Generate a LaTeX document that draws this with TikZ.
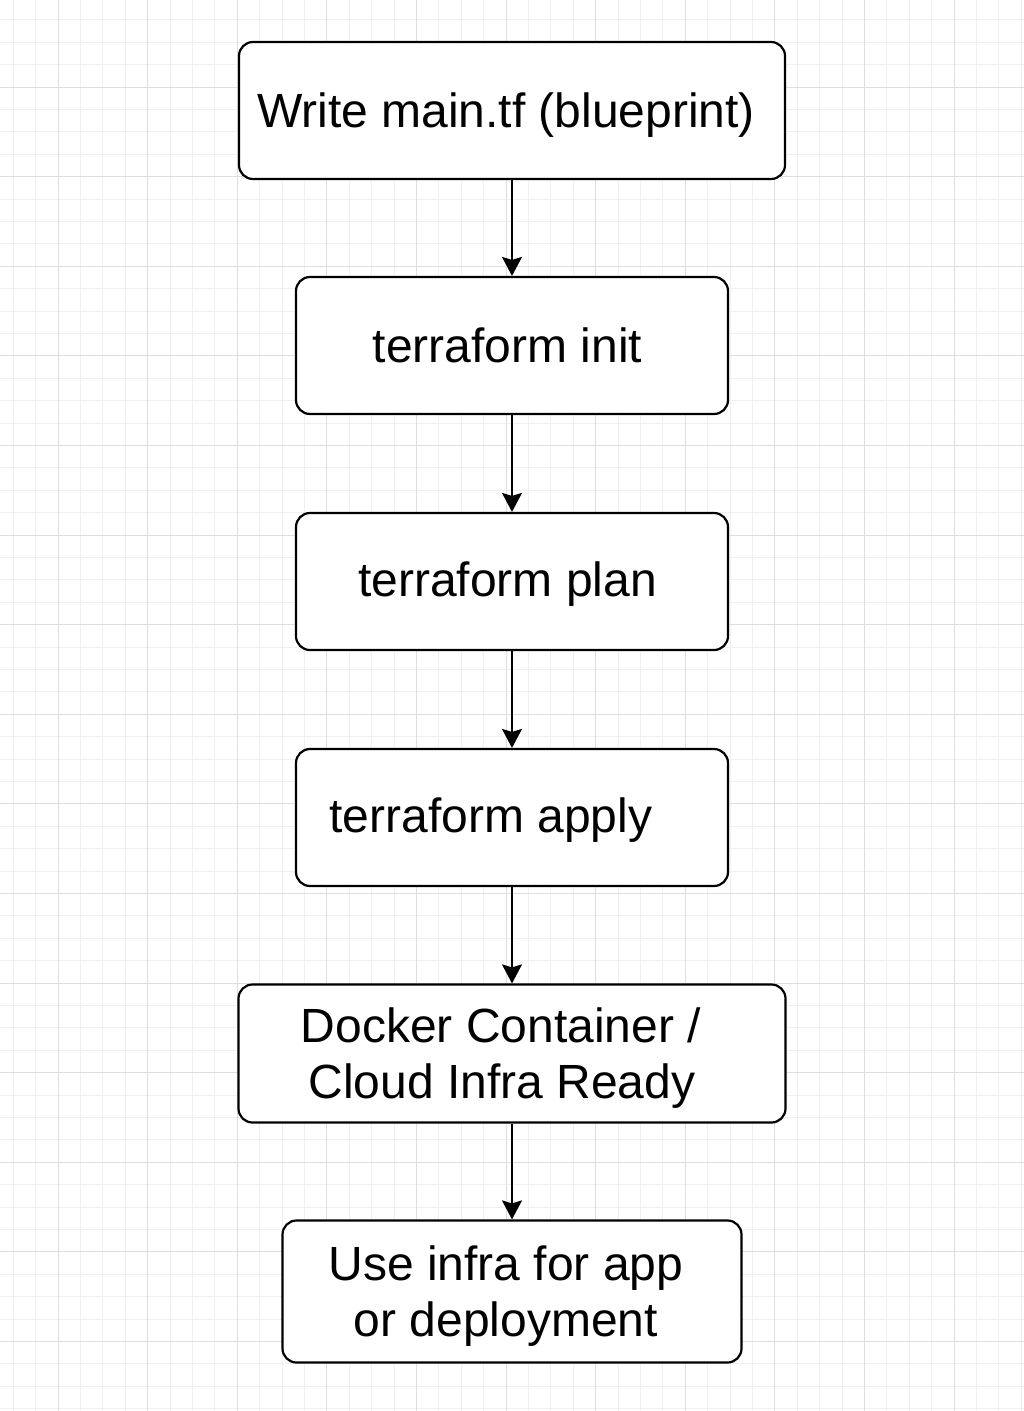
\documentclass[tikz,border=0pt]{standalone}
\usepackage{fontspec}
\setmainfont{Liberation Sans}
\usepackage{tikz}
\usetikzlibrary{arrows.meta}

\begin{document}
\begin{tikzpicture}[x=1pt,y=-1pt,>={Stealth[length=19pt,width=20pt,inset=3pt]},node distance=236pt]
      \tikzstyle{line} = [draw=black, line width=1.5pt, ->]
      \tikzstyle{main node} = [draw=black, fill=white, line width=2.2pt, rounded corners=14pt,
         inner sep=0pt, minimum width=432pt, minimum height=137pt, align=center,
         font=\fontsize{48}{56}\selectfont]
      \tikzstyle{minor grid} = [draw=black!6, line width=0.8pt]
      \tikzstyle{major grid} = [draw=black!13, line width=1pt]
      %grid
      \useasboundingbox[fill=white] (0,0) rectangle (1024,1411);
      \foreach \i in {-2,...,43} \draw[minor grid] ({58+22.4*\i},0) -- ({58+22.4*\i},1411);
      \foreach \i in {-3,...,59} \draw[minor grid] (0,{87+22.4*\i}) -- (1024,{87+22.4*\i});
      \foreach \i in {0,...,10} \draw[major grid] ({58+89.6*\i},0) -- ({58+89.6*\i},1411);
      \foreach \i in {0,...,14} \draw[major grid] (0,{87+89.6*\i}) -- (1024,{87+89.6*\i});
      %nodes
      \node[main node, minimum width=546pt, text depth=0pt] (write') at (512,110.5) {Write main.tf (blueprint)\hspace*{12pt}};
      \node[main node] (init') [below of=write', yshift=1pt] {terraform init\hspace*{9pt}};
      \node[main node, text depth=4pt] (plan') [below of=init'] {terraform plan\hspace*{9pt}};
      \node[main node, text depth=4pt] (apply') [below of=plan'] {terraform apply\hspace*{42pt}};
      \node[main node, minimum width=547pt, minimum height=138pt, text depth=0pt] (ready') [below of=apply']
         {Docker Container /\hspace*{22pt}\\Cloud Infra Ready\hspace*{20pt}};
      \node[main node, minimum width=459pt, minimum height=142pt, text depth=0pt] (use') [below of=ready', yshift=-2pt]
         {Use infra for app\hspace*{12pt}\\or deployment\hspace*{12pt}};
      %lines
      \draw [line] (write') -- (init');
      \draw [line] (init') -- (plan');
      \draw [line] (plan') -- (apply');
      \draw [line] (apply') -- (ready');
      \draw [line] (ready') -- (use');
\end{tikzpicture}
\end{document}
